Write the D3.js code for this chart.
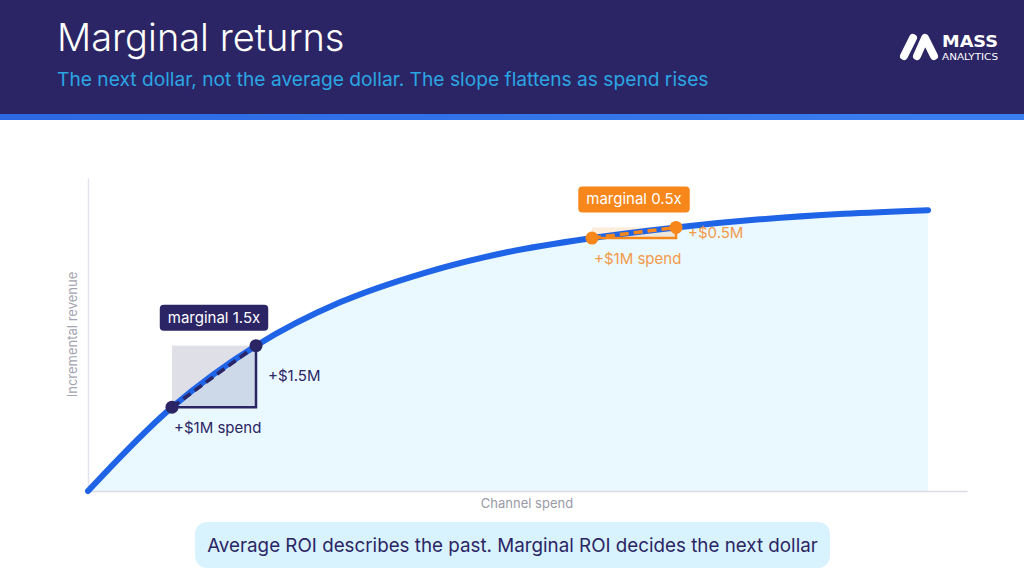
<!DOCTYPE html>
<html>
<head>
<meta charset="utf-8">
<script src="https://cdn.jsdelivr.net/npm/d3@7/dist/d3.min.js"></script>
<style>
  html, body { margin: 0; padding: 0; background: #ffffff; }
  svg { display: block; font-family: "Inter", "Lato", "Noto Sans", sans-serif; }
</style>
</head>
<body>
<svg id="chart" width="1024" height="576"></svg>
<script>
// ---- data ----
const spend = [0, 1, 2, 3, 4, 5, 6, 7, 8, 9, 10];
const revenue = [0, 3.0, 5.2, 6.75, 7.8, 8.55, 9.05, 9.43, 9.72, 9.92, 10.05];
const markerLabels = ["marginal 1.5x", "marginal 0.5x"];
const markerFrom = [1, 6];
const markerTo = [2, 7];
const markerRevLabels = ["+$1.5M", "+$0.5M"];
const markerSpendLabels = ["+$1M spend", "+$1M spend"];
const titleText = "Marginal returns";
const subtitleText = "The next dollar, not the average dollar. The slope flattens as spend rises";
const xAxisLabel = "Channel spend";
const yAxisLabel = "Incremental revenue";
const footerText = "Average ROI describes the past. Marginal ROI decides the next dollar";

// ---- styles ----
const navy = "#2b2565";
const orange = "#f7861b";
const markerColors = [navy, orange];
const markerFills = ["rgba(43,37,101,0.15)", "rgba(247,134,27,0.16)"];
const markerTextColors = [navy, "#f29a4a"];

const svg = d3.select("#chart");

// header
svg.append("rect").attr("x", 0).attr("y", 0).attr("width", 1024).attr("height", 115).attr("fill", "#2b2565");
const grad = svg.append("defs").append("linearGradient").attr("id", "stripe");
grad.append("stop").attr("offset", "0%").attr("stop-color", "#2b68e2");
grad.append("stop").attr("offset", "100%").attr("stop-color", "#3a7ff0");
svg.append("rect").attr("x", 0).attr("y", 114).attr("width", 1024).attr("height", 6).attr("fill", "url(#stripe)");

svg.append("text").attr("x", 57).attr("y", 51).attr("fill", "#ffffff")
  .attr("font-size", 38).attr("font-weight", 300).text(titleText);
svg.append("text").attr("x", 57).attr("y", 86).attr("fill", "#2ba6e3")
  .attr("font-size", 19.2).attr("font-weight", 400).text(subtitleText);

// logo
const logo = svg.append("g");
logo.append("path").attr("d", "M904,56 L913,38").attr("stroke", "#fff").attr("stroke-width", 8).attr("stroke-linecap", "round").attr("fill", "none");
logo.append("path").attr("d", "M917,56 L925,38 L934,56").attr("stroke", "#fff").attr("stroke-width", 8).attr("stroke-linecap", "round").attr("stroke-linejoin", "round").attr("fill", "none");
logo.append("text").attr("x", 942).attr("y", 47).attr("fill", "#fff").attr("font-size", 16).attr("font-weight", 700)
  .attr("font-family", "Liberation Sans Narrow, DejaVu Sans Condensed, sans-serif")
  .attr("textLength", 56).attr("lengthAdjust", "spacingAndGlyphs").text("MASS");
logo.append("text").attr("x", 942).attr("y", 60).attr("fill", "#fff").attr("font-size", 9)
  .attr("font-family", "Liberation Sans Narrow, DejaVu Sans Condensed, sans-serif")
  .attr("textLength", 56).attr("lengthAdjust", "spacingAndGlyphs").text("ANALYTICS");

// scales
const x = d3.scaleLinear().domain([0, 10.464]).range([88, 967]);
const y = d3.scaleLinear().domain([0, 11.2]).range([491, 178]);
const pts = spend.map((s, i) => [s, revenue[i]]);
const crv = d3.curveCatmullRom.alpha(0.5);

// area
const area = d3.area().x(d => x(d[0])).y0(y(0)).y1(d => y(d[1])).curve(crv);
svg.append("path").datum(pts).attr("d", area).attr("fill", "#eaf8ff");

// axes (domain lines only)
const xAxis = svg.append("g").attr("transform", `translate(0,${y(0)})`)
  .call(d3.axisBottom(x).ticks(0).tickSizeOuter(0));
xAxis.select(".domain").attr("stroke", "#dcdce4").attr("stroke-width", 1.5);
const yAxis = svg.append("g").attr("transform", `translate(${x(0)},0)`)
  .call(d3.axisLeft(y).ticks(0).tickSizeOuter(0));
yAxis.select(".domain").attr("stroke", "#e2e2ee").attr("stroke-width", 1.5);

svg.append("text").attr("x", 527).attr("y", 508).attr("text-anchor", "middle")
  .attr("fill", "#9a9aa6").attr("font-size", 13).text(xAxisLabel);
svg.append("text").attr("transform", `translate(77,${(y(0) + y(11.2)) / 2}) rotate(-90)`)
  .attr("text-anchor", "middle").attr("fill", "#a4a4b0").attr("font-size", 13).text(yAxisLabel);

// marker rectangles (behind line)
markerFrom.forEach((f, i) => {
  const t = markerTo[i];
  const x0 = x(f), x1 = x(t);
  const y0 = y(revenue[spend.indexOf(f)]), y1 = y(revenue[spend.indexOf(t)]);
  svg.append("rect").attr("x", x0).attr("y", y1).attr("width", x1 - x0).attr("height", y0 - y1)
    .attr("fill", markerFills[i]);
});

// curve
const line = d3.line().x(d => x(d[0])).y(d => y(d[1])).curve(crv);
svg.append("path").datum(pts).attr("d", line).attr("fill", "none")
  .attr("stroke", "#1f63e6").attr("stroke-width", 6).attr("stroke-linecap", "round");

// markers
markerFrom.forEach((f, i) => {
  const t = markerTo[i];
  const c = markerColors[i];
  const x0 = x(f), x1 = x(t);
  const y0 = y(revenue[spend.indexOf(f)]), y1 = y(revenue[spend.indexOf(t)]);
  svg.append("path").attr("d", `M${x0},${y0} L${x1},${y0} L${x1},${y1}`)
    .attr("fill", "none").attr("stroke", c).attr("stroke-width", 2.5);
  svg.append("line").attr("x1", x0).attr("y1", y0).attr("x2", x1).attr("y2", y1)
    .attr("stroke", c).attr("stroke-width", 3.5).attr("stroke-dasharray", "9 5");
  svg.append("circle").attr("cx", x0).attr("cy", y0).attr("r", 6.5).attr("fill", c);
  svg.append("circle").attr("cx", x1).attr("cy", y1).attr("r", 6.5).attr("fill", c);

  const mx = (x0 + x1) / 2;
  const lbl = svg.append("g");
  const txt = lbl.append("text").attr("x", mx).attr("y", y1 - 15 - 8).attr("text-anchor", "middle")
    .attr("fill", "#fff").attr("font-size", 15).text(markerLabels[i]);
  const w = txt.node().getComputedTextLength() + 16;
  lbl.insert("rect", "text").attr("x", mx - w / 2).attr("y", y1 - 15 - 26).attr("width", w).attr("height", 26)
    .attr("rx", 4).attr("fill", c);

  svg.append("text").attr("x", x1 + 12).attr("y", (y0 + y1) / 2 + 5)
    .attr("fill", markerTextColors[i]).attr("font-size", 15).text(markerRevLabels[i]);
  svg.append("text").attr("x", x0 + 2).attr("y", y0 + 26)
    .attr("fill", markerTextColors[i]).attr("font-size", 15).text(markerSpendLabels[i]);
});

// footer callout
svg.append("rect").attr("x", 195).attr("y", 522).attr("width", 635).attr("height", 46).attr("rx", 12)
  .attr("fill", "#d8f3fd");
svg.append("text").attr("x", 512.5).attr("y", 552).attr("text-anchor", "middle")
  .attr("fill", navy).attr("font-size", 18.8).text(footerText);
</script>
</body>
</html>
